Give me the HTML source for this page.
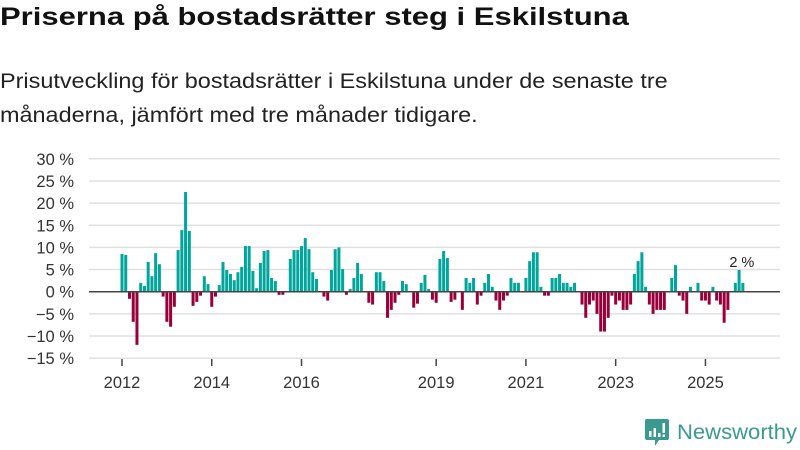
<!DOCTYPE html>
<html><head><meta charset="utf-8">
<style>
body{margin:0;width:800px;height:450px;background:#fff;font-family:"Liberation Sans","DejaVu Sans",sans-serif;overflow:hidden;position:relative}
h1{position:absolute;left:0;top:3px;margin:0;font-size:25px;font-weight:bold;color:#111;white-space:nowrap;transform:scaleX(1.24);transform-origin:0 0}
.sub{position:absolute;left:0;top:65px;margin:0;font-size:21px;line-height:34px;color:#222;white-space:nowrap;transform:scaleX(1.115);transform-origin:0 0}
svg{position:absolute;left:0;top:0}
</style></head><body>
<h1>Priserna på bostadsrätter steg i Eskilstuna</h1>
<p class="sub">Prisutveckling för bostadsrätter i Eskilstuna under de senaste tre<br>månaderna, jämfört med tre månader tidigare.</p>
<svg id="chart" width="800" height="450"></svg>
<div style="position:absolute;left:645px;top:419px;display:flex;align-items:center">
<svg width="24" height="28" style="position:static"><path d="M0 2 Q0 0 2 0 H22 Q24 0 24 2 V19 Q24 21 22 21 H14 L10 27 L10 21 H2 Q0 21 0 19Z" fill="#3a9a8f"/><rect x="4" y="12" width="2.5" height="6" fill="#fff"/><rect x="8.5" y="9" width="2.5" height="9" fill="#fff"/><rect x="13" y="14" width="2.5" height="4" fill="#fff"/><rect x="17.5" y="4" width="2.5" height="10" fill="#fff"/><rect x="17.5" y="15.5" width="2.5" height="2.5" fill="#fff"/></svg>
<span style="margin-left:8px;font-size:21px;color:#3a9a8f;transform:scaleX(1.05);transform-origin:0 0;display:inline-block">Newsworthy</span></div>
<script>
const startYear = 2012;
const values = [8.5,8.3,-1.6,-6.8,-12,2.0,1.3,6.7,3.5,8.7,6.2,-1.1,
-6.8,-7.9,-3.4,9.4,13.9,22.5,13.7,-3.2,-2.3,-0.9,3.5,1.7,
-3.4,-1.1,1.5,6.7,4.9,4.0,2.6,4.4,5.6,10.3,10.3,4.7,
0.8,6.5,9.2,9.4,3.1,2.4,-0.7,-0.7,0,7.4,9.4,9.4,
10.3,12.1,9.6,4.4,2.9,0,-1.1,-2.0,4.9,9.6,10.0,5.1,
-0.7,0.6,3.1,6.5,4.0,0,-2.5,-2.9,4.4,4.4,2.4,-5.9,
-4.1,-2.5,-0.7,2.4,1.7,0,-3.6,-2.7,2.0,3.8,0.6,-1.8,
-2.5,7.4,9.2,7.6,-2.3,-1.8,0,-4.1,3.1,2.0,3.1,-2.9,
-0.9,2.0,4.0,1.1,-2.0,-4.1,-2.0,-0.9,3.1,2.0,2.0,0,
3.1,6.9,8.9,8.9,1.1,-0.9,-0.9,3.1,3.1,4.0,2.0,2.0,
1.1,2.0,0,-2.9,-5.9,-2.9,-2.0,-5.0,-9.0,-9.0,-5.9,-0.9,
-2.9,-2.0,-4.1,-4.1,-2.9,4.0,6.9,8.9,1.1,-2.9,-5.0,-4.1,
-4.1,-4.1,0,3.1,6.0,-0.9,-2.0,-5.0,1.1,0,2.0,-2.0,
-2.0,-2.9,1.1,-2.0,-2.9,-7.0,-4.1,0,2.0,4.9,2.0];
const yTicks = [30,25,20,15,10,5,0,-5,-10,-15];
const xTickYears = [2012,2014,2016,2019,2021,2023,2025];
const lastLabel = "2 %";

const NS="http://www.w3.org/2000/svg";
const svg=document.getElementById('chart');
const x0=122, pitch=3.74, y0=291.7, ppu=4.43;
const xs=m=>x0+pitch*m;
const ys=v=>y0-ppu*v;
function mk(t,a){const e=document.createElementNS(NS,t);for(const k in a)e.setAttribute(k,a[k]);svg.appendChild(e);return e;}
yTicks.forEach(v=>{
  if(v!==0){const g=mk('line',{x1:89,x2:780,y1:ys(v),y2:ys(v),stroke:'#e0e0e0','stroke-width':1.5});
  
  }
  const t=mk('text',{x:74,y:ys(v)+6,'text-anchor':'end','font-size':16.5,fill:'#333'});
  t.textContent=(v<0?'\u2212'+(-v):v)+' %';
  
  
});
xTickYears.forEach(yr=>{
  const m=(yr-startYear)*12;
  const l=mk('line',{x1:xs(m),x2:xs(m),y1:359,y2:366,stroke:'#444','stroke-width':1.5});
  
  
  const t=mk('text',{x:xs(m),y:388,'text-anchor':'middle','font-size':16.5,fill:'#333'});
  t.textContent=yr;
  
  
});
values.forEach((v,i)=>{
  if(v===0)return;
  const top=Math.min(ys(v),y0), h=Math.abs(ys(v)-y0);
  const r=mk('rect',{x:xs(i)-1.5,y:top,width:3,height:h,fill:v>0?'#00a59b':'#99003a'});
  
  
});
const zl=mk('line',{x1:89,x2:780,y1:y0,y2:y0,stroke:'#444','stroke-width':1.5});


const li=values.length-1;
const lt=mk('text',{x:xs(li)-1,y:ys(values[li])-16,'text-anchor':'middle','font-size':14.5,fill:'#222'});
lt.textContent=lastLabel;


</script>
</body></html>
